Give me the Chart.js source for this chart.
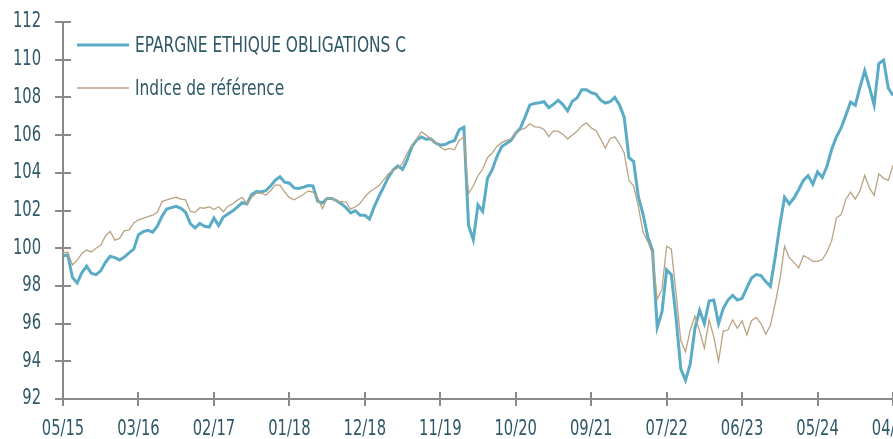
<!DOCTYPE html>
<html>
<head>
<meta charset="utf-8">
<script src="https://cdn.jsdelivr.net/npm/chart.js@4.4.1/dist/chart.umd.min.js"></script>
<style>
  html, body { margin: 0; padding: 0; background: #ffffff; overflow: hidden; }
  #wrap { position: relative; width: 893px; height: 439px; }
</style>
</head>
<body>
<div id="wrap"><canvas id="c" width="893" height="439"></canvas></div>
<script>
// Tick labels on the time axis (one every 16 points)
const tickLabels = ['05/15','03/16','02/17','01/18','12/18','11/19','10/20','09/21','07/22','06/23','05/24','04/25'];
const pointsPerTick = 16;

// Series names
const seriesNames = ['EPARGNE ETHIQUE OBLIGATIONS C', 'Indice de référence'];

// Fund values (base 100)
const fundValues = [
  99.6, 99.65, 98.45, 98.15, 98.7, 99.05, 98.67, 98.6, 98.8, 99.25,
  99.57, 99.5, 99.37, 99.53, 99.75, 99.95, 100.72, 100.88, 100.95, 100.85,
  101.17, 101.7, 102.08, 102.15, 102.22, 102.12, 101.9, 101.3, 101.07, 101.32,
  101.16, 101.12, 101.6, 101.2, 101.65, 101.82, 101.98, 102.19, 102.42, 102.35,
  102.85, 103.0, 102.98, 103.05, 103.3, 103.6, 103.79, 103.5, 103.45, 103.2,
  103.17, 103.24, 103.32, 103.3, 102.5, 102.4, 102.64, 102.64, 102.52, 102.36,
  102.15, 101.87, 101.99, 101.75, 101.75, 101.55, 102.2, 102.75, 103.25, 103.77,
  104.15, 104.37, 104.18, 104.7, 105.4, 105.74, 105.9, 105.78, 105.8, 105.58,
  105.47, 105.5, 105.63, 105.7, 106.28, 106.42, 101.2, 100.45, 102.3, 101.95,
  103.7, 104.15, 104.85, 105.38, 105.55, 105.72, 106.1, 106.38, 106.97, 107.6,
  107.68, 107.72, 107.77, 107.45, 107.63, 107.85, 107.62, 107.28, 107.8, 107.97,
  108.4, 108.4, 108.25, 108.18, 107.85, 107.7, 107.77, 108.0, 107.6, 106.95,
  104.8, 104.6, 102.73, 101.8, 100.6, 99.9, 95.8, 96.6, 98.85, 98.6,
  96.3, 93.6, 93.0, 93.85, 95.75, 96.7, 96.0, 97.2, 97.25, 96.0,
  96.8, 97.25, 97.5, 97.25, 97.34, 97.9, 98.42, 98.6, 98.55, 98.23,
  97.98, 99.5, 101.2, 102.7, 102.35, 102.66, 103.1, 103.6, 103.85, 103.4,
  104.05, 103.75, 104.35, 105.25, 105.9, 106.38, 107.05, 107.75, 107.58, 108.55,
  109.42, 108.55, 107.6, 109.8, 109.98, 108.5, 108.1
];

// Benchmark values (base 100)
const benchmarkValues = [
  99.75, 99.8, 99.11, 99.35, 99.72, 99.9, 99.8, 100.0, 100.15, 100.65,
  100.9, 100.43, 100.52, 100.93, 100.96, 101.34, 101.5, 101.58, 101.67, 101.75,
  101.9, 102.47, 102.56, 102.64, 102.7, 102.6, 102.56, 101.95, 101.9, 102.15,
  102.12, 102.2, 102.05, 102.2, 101.95, 102.23, 102.35, 102.55, 102.7, 102.35,
  102.7, 102.92, 102.92, 102.82, 103.05, 103.35, 103.35, 102.98, 102.68, 102.57,
  102.7, 102.86, 103.03, 102.98, 102.68, 102.1, 102.64, 102.64, 102.47, 102.47,
  102.45, 102.07, 102.2, 102.38, 102.72, 102.98, 103.15, 103.32, 103.62, 103.95,
  104.12, 104.25, 104.5, 105.05, 105.47, 105.8, 106.17, 106.0, 105.8, 105.6,
  105.37, 105.21, 105.29, 105.22, 105.72, 105.9, 102.9, 103.3, 103.85, 104.2,
  104.8, 105.05, 105.4, 105.6, 105.72, 105.8, 106.1, 106.27, 106.37, 106.6,
  106.44, 106.42, 106.3, 105.92, 106.22, 106.2, 106.05, 105.8, 106.0, 106.2,
  106.5, 106.65, 106.38, 106.25, 105.8, 105.3, 105.82, 105.91, 105.55, 105.05,
  103.6, 103.3, 102.2, 100.85, 100.35, 99.7, 97.3, 97.8, 100.1, 99.95,
  97.6, 95.1, 94.5, 95.65, 96.4, 95.6, 94.7, 96.2, 95.3, 94.0,
  95.6, 95.66, 96.2, 95.75, 96.15, 95.4, 96.15, 96.33, 96.0, 95.45,
  95.9, 97.05, 98.3, 100.1, 99.5, 99.25, 98.95, 99.6, 99.48, 99.3,
  99.3, 99.4, 99.8, 100.4, 101.6, 101.78, 102.6, 102.97, 102.6, 103.05,
  103.86, 103.2, 102.8, 103.95, 103.7, 103.6, 104.4
];

const categories = fundValues.map((_, i) => (i % pointsPerTick === 0 ? tickLabels[i / pointsPerTick] : ''));

const FONT = "'DejaVu Sans Condensed', 'DejaVu Sans', sans-serif";
const TEXT = '#2f5868';
const AXIS = '#8a8a8a';
const BLUE = '#5aabc5';
const BEIGE = '#b9a383';

// Condensed text rendering: the reference uses a narrow typeface, so text is
// drawn horizontally compressed around its anchor point.
const canvas = document.getElementById('c');
const c2d = canvas.getContext('2d');
const SX = 0.78;
const origFill = c2d.fillText.bind(c2d);
const origMeasure = c2d.measureText.bind(c2d);
c2d.fillText = function (t, x, y, mw) {
  this.save();
  this.translate(x, y);
  this.scale(SX, 1);
  origFill(t, 0, 0);
  this.restore();
};
c2d.measureText = function (t) {
  const m = origMeasure(t);
  return {
    width: m.width * SX,
    actualBoundingBoxLeft: m.actualBoundingBoxLeft * SX,
    actualBoundingBoxRight: m.actualBoundingBoxRight * SX,
    actualBoundingBoxAscent: m.actualBoundingBoxAscent,
    actualBoundingBoxDescent: m.actualBoundingBoxDescent,
    fontBoundingBoxAscent: m.fontBoundingBoxAscent,
    fontBoundingBoxDescent: m.fontBoundingBoxDescent
  };
};

const axisCross = {
  id: 'axisCross',
  afterDraw(chart) {
    const ctx = chart.ctx;
    const xs = chart.scales.x, ys = chart.scales.y;
    ctx.save();
    ctx.strokeStyle = AXIS;
    ctx.lineWidth = 2;
    ctx.beginPath();
    xs.ticks.forEach((t, i) => {
      if (!t.label) return;
      const px = Math.round(xs.getPixelForTick(i));
      ctx.moveTo(px, ys.bottom - 7);
      ctx.lineTo(px, ys.bottom + 7);
    });
    ys.ticks.forEach((t, i) => {
      const py = Math.round(ys.getPixelForTick(i));
      ctx.moveTo(xs.left - 8, py);
      ctx.lineTo(xs.left + 8, py);
    });
    ctx.stroke();
    ctx.restore();
  }
};

const innerLegend = {
  id: 'innerLegend',
  afterDraw(chart) {
    const ctx = chart.ctx;
    const a = chart.chartArea;
    const items = [
      { text: seriesNames[0], color: BLUE, width: 3, y: a.top + 23 },
      { text: seriesNames[1], color: BEIGE, width: 1.5, y: a.top + 66 }
    ];
    ctx.save();
    items.forEach(it => {
      ctx.strokeStyle = it.color;
      ctx.lineWidth = it.width;
      ctx.beginPath();
      ctx.moveTo(a.left + 14, it.y);
      ctx.lineTo(a.left + 66, it.y);
      ctx.stroke();
      ctx.fillStyle = TEXT;
      ctx.font = '22px ' + FONT;
      ctx.textBaseline = 'middle';
      ctx.textAlign = 'left';
      ctx.fillText(it.text, a.left + 72, it.y + 1);
    });
    ctx.restore();
  }
};

new Chart(canvas, {
  type: 'line',
  data: {
    labels: categories,
    datasets: [
      { label: seriesNames[0], data: fundValues, borderColor: BLUE, borderWidth: 3, pointRadius: 0, tension: 0, order: 1 },
      { label: seriesNames[1], data: benchmarkValues, borderColor: BEIGE, borderWidth: 1.3, pointRadius: 0, tension: 0, order: 0 }
    ]
  },
  options: {
    responsive: false,
    animation: false,
    layout: { padding: { top: 22, right: 0, bottom: 0, left: 0 } },
    plugins: { legend: { display: false }, tooltip: { enabled: false } },
    scales: {
      x: {
        type: 'category',
        grid: { display: false, drawTicks: false },
        border: { display: true, color: AXIS, width: 2 },
        ticks: {
          autoSkip: false, maxRotation: 0, minRotation: 0, padding: 18,
          color: TEXT, font: { family: FONT, size: 21 },
          callback: function (v, i) { return categories[i]; }
        },
        afterFit(s) { s.height = 40; s.paddingLeft = 0; s.paddingRight = 0; }
      },
      y: {
        min: 92, max: 112,
        grid: { display: false, drawTicks: false },
        border: { display: true, color: AXIS, width: 2 },
        ticks: { stepSize: 2, padding: 22, color: TEXT, font: { family: FONT, size: 21 } },
        afterFit(s) { s.width = 63; s.paddingTop = 0; s.paddingBottom = 0; }
      }
    }
  },
  plugins: [axisCross, innerLegend]
});
</script>
</body>
</html>
